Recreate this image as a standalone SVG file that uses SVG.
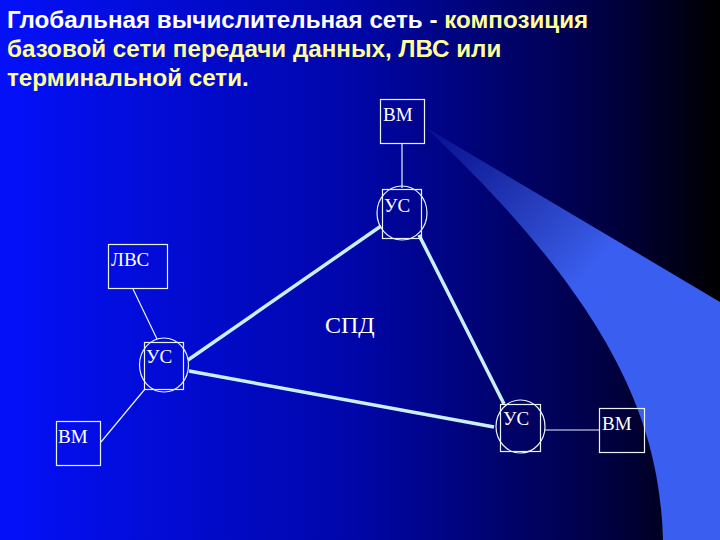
<svg xmlns="http://www.w3.org/2000/svg" width="720" height="540" viewBox="0 0 720 540">
<defs>
<linearGradient id="bg" x1="0" y1="0" x2="720" y2="0" gradientUnits="userSpaceOnUse">
<stop offset="0" stop-color="#0410fa"/>
<stop offset="0.5" stop-color="#0006a6"/>
<stop offset="0.85" stop-color="#000040"/>
<stop offset="1" stop-color="#000000"/>
</linearGradient>
<linearGradient id="sw" x1="425" y1="127" x2="590" y2="270" gradientUnits="userSpaceOnUse">
<stop offset="0" stop-color="#3a5ef0" stop-opacity="0.1"/>
<stop offset="1" stop-color="#3a5ef0" stop-opacity="1"/>
</linearGradient>
<style>
.box{fill:none;stroke:#e8f4ff;stroke-width:1.2}
.lbl{font-family:"Liberation Serif","Times New Roman",serif;font-size:19px;fill:#ffffff}
.thin{stroke:#e8f4ff;stroke-width:1.2;fill:none}
.thick{stroke:#c8f0ff;stroke-width:3.5;fill:none}
.title{font-family:"Liberation Sans",Arial,sans-serif;font-size:24.2px;font-weight:bold;fill:#ffff99}
</style>
</defs>
<rect x="0" y="0" width="720" height="540" fill="url(#bg)"/>
<path d="M425,127 L720,302 L720,540 L663,540 C660,430 620,310 425,127 Z" fill="url(#sw)"/>
<g id="title">
<text class="title" x="7" y="28"><tspan fill="#ffffff">Глобальная вычислительная сеть - </tspan>композиция</text>
<text class="title" x="7" y="57">базовой сети передачи данных, ЛВС или</text>
<text class="title" x="7" y="86">терминальной сети.</text>
</g>
<g id="connectors">
<line class="thin" x1="402" y1="143" x2="402" y2="188"/>
<line class="thin" x1="133" y1="289" x2="157" y2="339"/>
<line class="thin" x1="145" y1="389" x2="101" y2="442"/>
<line class="thin" x1="545" y1="430" x2="599" y2="430"/>
<line class="thick" x1="188" y1="360" x2="381" y2="226"/>
<line class="thick" x1="419" y1="235" x2="504" y2="404"/>
<line class="thick" x1="189" y1="371" x2="494" y2="427"/>
</g>
<g id="vm-top">
<rect class="box" x="380.5" y="99.5" width="44" height="44"/>
<text class="lbl" x="383" y="121">ВМ</text>
</g>
<g id="us-top">
<rect class="box" x="382.5" y="189.5" width="39" height="49"/>
<ellipse class="box" cx="402" cy="213" rx="25" ry="27"/>
<text class="lbl" x="384" y="212">УС</text>
</g>
<g id="lvs">
<rect class="box" x="108.5" y="244.5" width="59" height="44"/>
<text class="lbl" x="111" y="266">ЛВС</text>
</g>
<g id="us-left">
<rect class="box" x="144.5" y="342.5" width="39" height="47"/>
<ellipse class="box" cx="164" cy="365" rx="24.5" ry="27"/>
<text class="lbl" x="146" y="363">УС</text>
</g>
<g id="vm-left">
<rect class="box" x="56.5" y="421.5" width="44" height="44"/>
<text class="lbl" x="58" y="443">ВМ</text>
</g>
<g id="us-right">
<rect class="box" x="500.5" y="404.5" width="40" height="47"/>
<ellipse class="box" cx="520.5" cy="426.5" rx="24.5" ry="26.5"/>
<text class="lbl" x="503" y="425">УС</text>
</g>
<g id="vm-right">
<rect class="box" x="599.5" y="408.5" width="45" height="44"/>
<text class="lbl" x="602" y="430">ВМ</text>
</g>
<g id="spd">
<text class="lbl" x="325" y="333" style="font-size:24px">СПД</text>
</g>
</svg>
